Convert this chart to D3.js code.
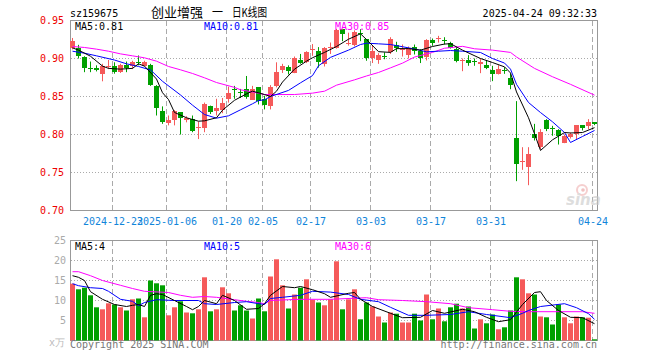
<!DOCTYPE html>
<html>
<head>
<meta charset="utf-8">
<script src="https://cdn.jsdelivr.net/npm/d3@7"></script>
<style>
  body { margin: 0; background: #fff; }
  svg { display: block; }
  text { font-family: "DejaVu Sans Mono", monospace; font-size: 10px; }
</style>
</head>
<body>
<svg width="660" height="360"></svg>
<script>
"use strict";

// Data
const dates = [
  "2024-12-12","2024-12-13","2024-12-16","2024-12-17","2024-12-18","2024-12-19","2024-12-20",
  "2024-12-23","2024-12-24","2024-12-25","2024-12-26","2024-12-27","2024-12-30","2024-12-31",
  "2025-01-02","2025-01-03","2025-01-06","2025-01-07","2025-01-08","2025-01-09","2025-01-10",
  "2025-01-13","2025-01-14","2025-01-15","2025-01-16","2025-01-17","2025-01-20","2025-01-21",
  "2025-01-22","2025-01-23","2025-01-24","2025-01-27","2025-02-05","2025-02-06","2025-02-07",
  "2025-02-10","2025-02-11","2025-02-12","2025-02-13","2025-02-14","2025-02-17","2025-02-18",
  "2025-02-19","2025-02-20","2025-02-21","2025-02-24","2025-02-25","2025-02-26","2025-02-27",
  "2025-02-28","2025-03-03","2025-03-04","2025-03-05","2025-03-06","2025-03-07","2025-03-10",
  "2025-03-11","2025-03-12","2025-03-13","2025-03-14","2025-03-17","2025-03-18","2025-03-19",
  "2025-03-20","2025-03-21","2025-03-24","2025-03-25","2025-03-26","2025-03-27","2025-03-28",
  "2025-03-31","2025-04-01","2025-04-02","2025-04-03","2025-04-07","2025-04-08","2025-04-09",
  "2025-04-10","2025-04-11","2025-04-14","2025-04-15","2025-04-16","2025-04-17","2025-04-18",
  "2025-04-21","2025-04-22","2025-04-23","2025-04-24"
];

const open = [
  .914,.914,.902,.887,.888,.879,.8895,.890,.882,.891,
  .890,.895,.891,.891,.864,.831,.815,.819,.829,.819,
  .821,.8088,.809,.837,.831,.833,.846,.8597,.856,.860,
  .8465,.862,.8465,.8386,.864,.885,.889,.8816,.898,.8947,
  .912,.9105,.893,.9137,.914,.9386,.920,.9184,.9335,.9254,
  .900,.898,.9036,.9088,.9175,.9123,.9053,.915,.9105,.9018,
  .9246,.9263,.924,.921,.912,.8972,.8982,.8965,.893,.8921,
  .8851,.8798,.8855,.8737,.7956,.764,.7579,.8009,.7833,.8193,
  .809,.8053,.7895,.7956,.800,.8123,.8105,.8158
];
const high = [
  .927,.918,.903,.896,.891,.893,.898,.895,.893,.896,
  .897,.904,.897,.893,.865,.837,.825,.832,.829,.824,
  .825,.817,.842,.838,.847,.848,.863,.864,.860,.877,
  .864,.862,.851,.865,.895,.893,.891,.9026,.906,.9096,
  .919,.915,.915,.921,.939,.9386,.934,.937,.9386,.9254,
  .9175,.907,.908,.928,.922,.9184,.9158,.9184,.9123,.9254,
  .9263,.9298,.928,.922,.915,.900,.9044,.900,.900,.8974,
  .8904,.8912,.8886,.8798,.8439,.7833,.7833,.814,.807,.8202,
  .8114,.807,.800,.8026,.8123,.8123,.8202,.8158
];
const low = [
  .912,.900,.882,.882,.883,.870,.886,.880,.881,.882,
  .886,.891,.890,.864,.825,.814,.812,.812,.800,.816,
  .803,.794,.803,.827,.825,.828,.842,.847,.848,.847,
  .8455,.8395,.833,.833,.862,.881,.879,.8807,.893,.894,
  .9035,.888,.8895,.906,.913,.9228,.917,.916,.9228,.897,
  .894,.893,.899,.906,.9088,.9026,.900,.9053,.894,.8974,
  .9167,.921,.9184,.913,.895,.8833,.8904,.8904,.8807,.886,
  .8702,.879,.8798,.8596,.7386,.7535,.7333,.7921,.7807,.8044,
  .7983,.7868,.7886,.7947,.7939,.8053,.807,.8123
];
const close = [
  .923,.904,.888,.886,.886,.890,.890,.882,.891,.887,
  .895,.894,.896,.865,.835,.817,.819,.831,.821,.822,
  .805,.8096,.840,.829,.835,.842,.854,.859,.8545,.850,
  .8605,.843,.8386,.863,.8825,.890,.884,.901,.8947,.908,
  .9123,.8956,.914,.9145,.9377,.9325,.9205,.935,.933,.900,
  .9096,.905,.903,.9254,.913,.9126,.914,.9096,.901,.9237,
  .921,.9267,.9235,.914,.8965,.8976,.8947,.8947,.8956,.8877,
  .8798,.886,.885,.8649,.7614,.7645,.7746,.7956,.8035,.8079,
  .8088,.7974,.7983,.800,.8123,.8088,.8158,.8132
];
// volume, in 10k (万)
const volume = [
  14.2,12.8,13.2,11.3,8.3,7.8,9.3,9.0,8.3,7.5,
  10.3,10.5,5.8,15.0,14.3,13.8,6.3,8.3,9.8,7.0,
  6.8,7.8,15.8,7.3,7.8,13.3,11.8,7.5,8.8,7.5,
  5.5,10.5,7.3,16.0,20.3,13.8,8.0,11.5,13.2,15.3,
  10.2,9.5,8.8,10.3,19.8,7.8,10.3,12.8,5.3,9.5,
  8.5,6.0,4.5,7.0,6.7,4.5,4.5,6.7,5.0,11.5,
  5.3,8.0,4.8,8.3,9.2,8.0,8.5,3.0,5.3,4.3,
  6.5,2.8,3.3,7.5,15.8,15.3,11.8,11.5,6.0,5.8,
  4.0,9.0,5.8,4.3,6.0,5.8,5.7,0.3
];

// moving averages: [day index, value]
const ma5 = [[0,.914],[1,.911],[3,.903],[5,.890],[6,.887],[8,.886],[10,.887],[11,.893],[12,.890],
  [14,.873],[15,.855],[16,.846],[17,.829],[19,.822],[21,.8175],[22,.818],[24,.822],[25,.832],[27,.845],
  [29,.8535],[30,.857],[32,.8526],[33,.850],[34,.857],[35,.869],[37,.886],[39,.8965],[40,.901],
  [42,.908],[44,.9158],[46,.9254],[48,.9325],[49,.925],[51,.909],[53,.908],[54,.913],[56,.913],
  [58,.911],[60,.9158],[62,.919],[63,.9195],[65,.911],[68,.900],[70,.8947],[72,.889],[73,.881],
  [74,.856],[76,.822],[77,.801],[78,.779],[80,.793],[82,.8026],[83,.802],[85,.8026],[87,.809]];
const ma10 = [[0,.9096],[2,.907],[4,.9035],[7,.898],[9,.893],[11,.8895],[13,.885],[15,.870],
  [18,.852],[20,.8386],[22,.8263],[24,.8215],[26,.8246],[28,.8325],[30,.8404],[31,.8447],[32,.8456],
  [33,.850],[36,.858],[38,.868],[40,.8775],[41,.8904],[43,.9015],[46,.911],[48,.9184],[49,.9202],
  [51,.9193],[53,.9184],[55,.9155],[57,.9125],[59,.9088],[61,.9096],[63,.9105],[65,.9096],[68,.9079],
  [70,.900],[72,.894],[73,.886],[74,.866],[76,.8421],[78,.8289],[80,.8167],[82,.8026],[83,.7895],
  [85,.7974],[87,.8053]];
const ma30 = [[0,.9158],[2,.9145],[4,.9123],[6,.9096],[8,.9061],[10,.9035],[12,.9009],[14,.8965],
  [16,.8895],[18,.8851],[20,.8803],[22,.8746],[24,.8684],[27,.862],[28,.8588],[30,.856],[32,.8526],
  [37,.8526],[40,.8544],[42,.857],[44,.8649],[47,.8719],[49,.877],[51,.8816],[53,.8877],[55,.8939],
  [57,.9019],[59,.906],[60,.908],[62,.9135],[65,.916],[67,.9128],[70,.911],[73,.908],[74,.902],
  [77,.887],[80,.876],[83,.866],[87,.8518]];

const vma5 = [[0,16.2],[1,15.8],[2,15],[3,12.2],[5,10.3],[7,9],[9,8.5],[10,8.8],[11,9],[12,8.5],
  [13,11.3],[14,11.7],[15,11.5],[17,10],[19,8.5],[20,7.7],[21,8.5],[22,10],[24,9.2],[25,11.3],
  [27,10],[29,7.8],[31,8],[32,9.2],[33,11.3],[35,13.5],[37,13.2],[38,13.5],[40,12.7],[42,11.7],
  [43,10.8],[46,11.8],[47,12],[48,10.3],[50,8.5],[53,6.8],[55,5.7],[58,5.8],[60,7.5],[62,6.8],
  [65,7.8],[67,7.2],[69,5.8],[71,4.7],[73,5.2],[75,9],[77,12],[78,12.2],[79,10],[81,7.5],[83,5.8],
  [85,5.7],[87,4.2]];
const vma10 = [[0,14.2],[1,13.7],[3,13.2],[5,13],[6,12.3],[8,10.3],[10,9.8],[11,8.7],[12,9.5],
  [14,10.2],[17,10],[21,10],[22,9.2],[24,9],[27,9.5],[29,9.7],[31,9.2],[32,9],[33,10.5],[35,10.8],
  [38,11.3],[40,12.3],[43,12.1],[46,11.5],[48,10.3],[51,9.7],[53,8.3],[56,6.3],[59,6.3],[63,6.5],
  [66,7.2],[69,6.5],[73,5.7],[75,6.8],[76,7.5],[78,8.5],[82,9.2],[84,8.2],[86,6.7],[87,5.3]];
const vma30 = [[0,17.2],[1,17.2],[3,16.2],[5,15],[8,13.8],[10,13],[12,12.3],[16,12],[18,11.3],
  [20,10.8],[22,11],[24,10.8],[27,10.2],[29,9.8],[31,9.5],[32,9.2],[33,10],[36,10.2],[38,10.3],
  [43,10.3],[49,10.7],[51,10.2],[55,10],[59,9.7],[63,9.2],[66,8.2],[70,7.7],[73,7.3],[76,7.2],
  [85,7.2],[87,6.8]];

const tickDates = ["2024-12-23","2025-01-06","2025-01-20","2025-02-05","2025-02-17",
  "2025-03-03","2025-03-17","2025-03-31","2025-04-24"];
const tickLabels = ["2024-12-23","2025-01-06","01-20","02-05","02-17","03-03","03-17","03-31","04-24"];
const priceTicks = [0.70, 0.75, 0.80, 0.85, 0.90, 0.95];
const volTicks = [5, 10, 15, 20, 25];

// Colors
const UP = "#f55a5a";
const DOWN = "#00a000";
const GRID = "#aaa";
const FRAME = "#999";

// Chart box
const left = 70, right = 598;
const svg = d3.select("svg");
svg.append("rect").attr("width", 660).attr("height", 360).attr("fill", "#fff");

// Scales
const x = d3.scaleLinear()
  .domain([0, dates.length])
  .range([left, right]);

const yPrice = d3.scaleLinear()
  .domain([0.70, 0.95])
  .range([210.5, 20.5]);

const yVol = d3.scaleLinear()
  .domain([0, 25])
  .range([340.5, 240.5]);

const tickIdx = tickDates.map(d => dates.indexOf(d));

// Grid lines
function grid(y0, y1, yScale, values) {
  svg.append("g")
    .selectAll("line")
    .data(values)
    .join("line")
      .attr("x1", 71).attr("x2", 597)
      .attr("y1", d => Math.round(yScale(d) - 0.5) + 0.5)
      .attr("y2", d => Math.round(yScale(d) - 0.5) + 0.5)
      .attr("stroke", GRID)
      .attr("stroke-dasharray", "1,2");

  svg.append("g")
    .selectAll("line")
    .data(tickIdx)
    .join("line")
      .attr("x1", d => x(d) + 0.5).attr("x2", d => x(d) + 0.5)
      .attr("y1", y0).attr("y2", y1)
      .attr("stroke", GRID)
      .attr("stroke-dasharray", "5,3");
}
grid(21, 210, yPrice, [0.75, 0.80, 0.85, 0.90]);
grid(241, 340, yVol, [5, 10, 15, 20]);

// Frames
svg.append("rect")
  .attr("x", 70.5).attr("y", 20.5).attr("width", 527).attr("height", 190)
  .attr("fill", "none").attr("stroke", FRAME);
svg.append("rect")
  .attr("x", 70.5).attr("y", 240.5).attr("width", 527).attr("height", 100)
  .attr("fill", "none").attr("stroke", FRAME);

// Axes
const priceAxis = svg.append("g")
  .attr("transform", "translate(70, 0)")
  .call(d3.axisLeft(yPrice).tickValues(priceTicks).tickFormat(d3.format(".2f")).tickSize(0).tickPadding(6));
priceAxis.select(".domain").remove();
priceAxis.selectAll("text")
  .attr("fill", "#e00")
  .style("font-family", "DejaVu Sans Mono").style("font-size", "10px");

const volAxis = svg.append("g")
  .attr("transform", "translate(70, 0)")
  .call(d3.axisLeft(yVol).tickValues(volTicks).tickSize(0).tickPadding(4));
volAxis.select(".domain").remove();
volAxis.selectAll("text")
  .attr("fill", "#aaa")
  .style("font-family", "DejaVu Sans Mono").style("font-size", "10px");

const dateAxis = svg.append("g")
  .attr("transform", "translate(0.5, 211)")
  .call(d3.axisBottom(x).tickValues(tickIdx).tickFormat((d, i) => tickLabels[i]).tickSize(0).tickPadding(7));
dateAxis.select(".domain").remove();
dateAxis.selectAll("text")
  .attr("fill", "#1185da")
  .style("font-family", "DejaVu Sans Mono").style("font-size", "10px");

// Candles
const candles = svg.append("g")
  .selectAll("g")
  .data(dates.map((d, i) => i))
  .join("g");

candles.append("line")
  .attr("x1", i => x(i) + 2.5).attr("x2", i => x(i) + 2.5)
  .attr("y1", i => yPrice(high[i])).attr("y2", i => yPrice(low[i]))
  .attr("stroke", i => close[i] >= open[i] ? UP : DOWN);

candles.append("rect")
  .attr("x", i => x(i))
  .attr("width", 5)
  .attr("y", i => Math.round(yPrice(Math.max(open[i], close[i]))))
  .attr("height", i => Math.max(1, Math.round(Math.abs(yPrice(open[i]) - yPrice(close[i])))))
  .attr("fill", i => close[i] >= open[i] ? UP : DOWN);

// Volume bars
svg.append("g")
  .selectAll("rect")
  .data(volume)
  .join("rect")
    .attr("x", (d, i) => x(i))
    .attr("width", 5)
    .attr("y", d => yVol(d))
    .attr("height", d => yVol(0) - yVol(d))
    .attr("fill", (d, i) => close[i] >= open[i] ? UP : DOWN);

// Moving average lines
function maLine(data, yScale, color) {
  const line = d3.line()
    .x(d => x(d[0]) + 2.5)
    .y(d => yScale(d[1]));
  svg.append("path")
    .attr("d", line(data))
    .attr("fill", "none")
    .attr("stroke", color)
    .attr("stroke-width", 1);
}
maLine(ma30, yPrice, "#f0f");
maLine(ma10, yPrice, "#00f");
maLine(ma5, yPrice, "#000");
maLine(vma30, yVol, "#f0f");
maLine(vma10, yVol, "#00f");
maLine(vma5, yVol, "#000");

// Legends
const legend = [
  { t: "MA5:0.81", x: 75, y: 29.5, c: "#000" },
  { t: "MA10:0.81", x: 204, y: 29.5, c: "#00f" },
  { t: "MA30:0.85", x: 335, y: 29.5, c: "#f0f" },
  { t: "MA5:4", x: 75, y: 250, c: "#000" },
  { t: "MA10:5", x: 204, y: 250, c: "#00f" },
  { t: "MA30:6", x: 335, y: 250, c: "#f0f" }
];
svg.append("g")
  .selectAll("text")
  .data(legend)
  .join("text")
    .attr("x", d => d.x).attr("y", d => d.y)
    .attr("fill", d => d.c)
    .text(d => d.t);

// Header and footer
svg.append("text").attr("x", 70).attr("y", 17).text("sz159675");
svg.append("text").attr("x", 597).attr("y", 17).attr("text-anchor", "end").text("2025-04-24 09:32:33");

const titleParts = [
  { t: "创业增强", x: 151, size: 13, len: 52 },
  { t: "一", x: 212, size: 12, len: 11 },
  { t: "日K线图", x: 232, size: 12, len: 35 }
];
svg.append("g")
  .selectAll("text")
  .data(titleParts)
  .join("text")
    .attr("x", d => d.x).attr("y", 16.5)
    .attr("textLength", d => d.len)
    .attr("lengthAdjust", "spacingAndGlyphs")
    .style("font-family", "'Noto Sans CJK SC'")
    .style("font-size", d => d.size + "px")
    .text(d => d.t);

svg.append("text").attr("x", 65).attr("y", 346).attr("text-anchor", "end")
  .attr("fill", "#bbb").text("x万");
svg.append("text").attr("x", 70).attr("y", 348).attr("fill", "#777").text("Copyright 2025 SINA.COM");
svg.append("text").attr("x", 597).attr("y", 348).attr("text-anchor", "end")
  .attr("fill", "#777").text("http://finance.sina.com.cn");

// sina watermark
const mark = svg.append("g").attr("opacity", 0.6);
mark.append("circle").attr("cx", 582).attr("cy", 190).attr("r", 5)
  .attr("fill", "none").attr("stroke", "#f0b0b0").attr("stroke-width", 2);
mark.append("circle").attr("cx", 583).attr("cy", 190).attr("r", 1.8).attr("fill", "#e89898");
mark.append("text").attr("x", 566).attr("y", 205)
  .style("font-family", "DejaVu Sans").style("font-size", "15px")
  .style("font-style", "italic").style("font-weight", "bold")
  .attr("fill", "#c8c8c8").text("sina");
</script>
</body>
</html>
